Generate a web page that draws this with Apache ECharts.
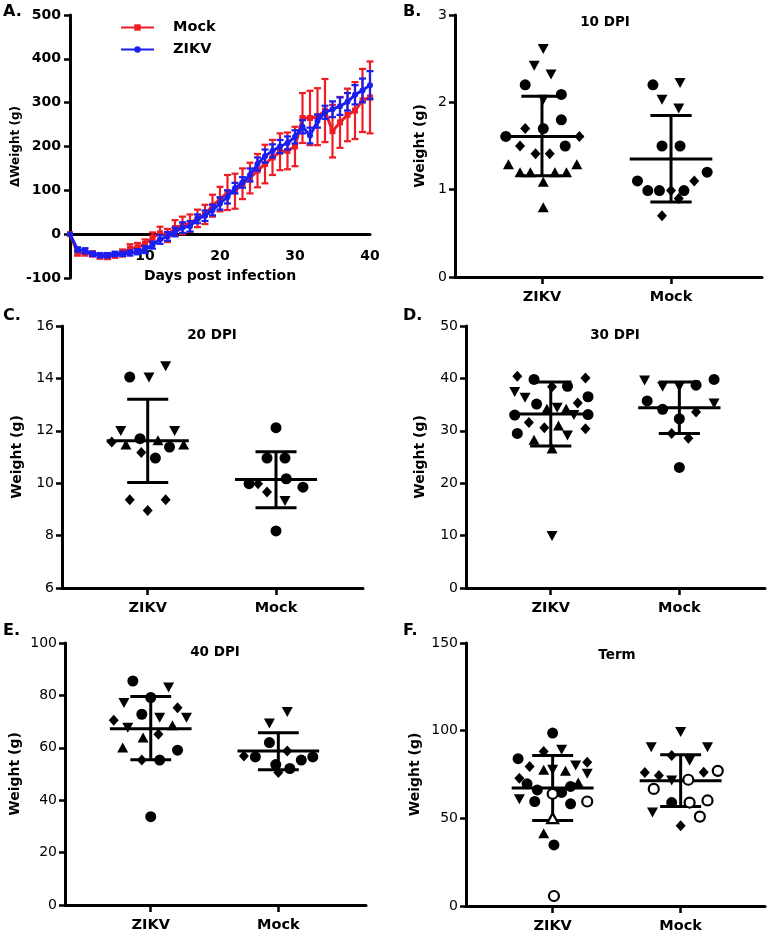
<!DOCTYPE html>
<html>
<head>
<meta charset="utf-8">
<script src="https://cdn.jsdelivr.net/npm/echarts@6/dist/echarts.min.js"></script>
<style>html,body{margin:0;padding:0;background:#fff}#c{width:771px;height:936px}</style>
</head>
<body>
<div id="c"></div>
<script>
// ---------- Panel A data ----------
const days = [0,1,2,3,4,5,6,7,8,9,10,11,12,13,14,15,16,17,18,19,20,21,22,23,24,25,26,27,28,29,30,31,32,33,34,35,36,37,38,39,40];
const mockMean = [0,-43,-43,-45,-50,-51,-48,-43,-33,-30,-22,-8,2,-3,14,20,25,36,45,65,80,95,98,115,128,145,160,175,188,190,200,265,265,268,282,235,255,272,282,305,312];
const mockSD   = [0,6,6,6,6,6,6,8,10,10,10,12,15,15,18,20,20,20,22,25,28,40,40,35,35,38,44,40,42,42,45,57,62,65,72,60,58,60,65,72,82];
const zikvMean = [0,-35,-38,-45,-48,-48,-45,-45,-43,-40,-35,-25,-12,-5,5,15,18,35,42,55,70,85,105,118,135,160,178,190,200,208,222,245,225,258,278,285,292,302,318,328,340];
const zikvSD   = [0,5,6,5,5,5,5,5,6,6,8,8,10,10,10,12,12,10,12,12,14,15,12,12,15,15,15,15,15,15,15,15,18,15,15,18,20,20,22,27,32];
const seriesNames = ['Mock','ZIKV'];
const axisA_y = {min:-100, max:500, interval:100};
const axisA_x = {min:0, max:40, interval:10};

// ---------- Scatter panels: [jitter, weight, shape]  o=circle d=diamond ^=triangle v=inverted triangle, oo/^o = open ----------
const groups = ['ZIKV','Mock'];

const b_zikv = [[0.01,2.61,'v'],[-0.06,2.42,'v'],[0.07,2.32,'v'],[-0.13,2.20,'o'],[0.15,2.09,'o'],[0.01,2.03,'v'],[0.15,1.80,'o'],[-0.13,1.70,'d'],[0.01,1.70,'o'],[-0.28,1.61,'o'],[0.29,1.61,'d'],[-0.17,1.50,'d'],[0.18,1.50,'o'],[-0.05,1.41,'d'],[0.06,1.41,'d'],[-0.26,1.29,'^'],[0.27,1.29,'^'],[-0.17,1.20,'^'],[-0.09,1.20,'^'],[0.10,1.20,'^'],[0.19,1.20,'^'],[0.01,1.09,'^'],[0.01,0.80,'^']];
const b_mock = [[-0.14,2.20,'o'],[0.07,2.22,'v'],[-0.07,2.03,'v'],[0.06,1.93,'v'],[-0.07,1.50,'o'],[0.07,1.50,'o'],[0.28,1.20,'o'],[0.18,1.10,'d'],[-0.26,1.10,'o'],[-0.18,0.99,'o'],[-0.09,0.99,'o'],[0,0.99,'d'],[0.10,0.99,'o'],[0.06,0.90,'d'],[-0.07,0.70,'d']];
const b_stats = [[1.61,1.16,2.07],[1.35,0.86,1.85]]; // mean, mean-SD, mean+SD
const b_ticks = {min:0, max:3, interval:1};

const c_zikv = [[-0.14,14.05,'o'],[0.01,14.03,'v'],[0.14,14.46,'v'],[-0.21,11.99,'v'],[0.21,11.99,'v'],[-0.28,11.57,'d'],[-0.17,11.48,'^'],[-0.06,11.70,'o'],[0.08,11.64,'^'],[0.17,11.38,'o'],[0.28,11.48,'^'],[-0.05,11.17,'d'],[0.06,10.96,'o'],[-0.14,9.37,'d'],[0.14,9.37,'d'],[0,8.96,'d']];
const c_mock = [[0,12.12,'o'],[-0.07,10.96,'o'],[0.07,10.96,'o'],[0.08,10.17,'o'],[-0.21,9.98,'o'],[-0.14,9.98,'d'],[-0.07,9.66,'d'],[0.21,9.85,'o'],[0.07,9.32,'v'],[0,8.18,'o']];
const c_stats = [[11.62,10.03,13.2],[10.14,9.06,11.2]];
const c_ticks = {min:6, max:16, interval:2};

const d_zikv = [[-0.26,40.4,'d'],[-0.13,39.8,'o'],[0.01,38.4,'d'],[0.13,38.5,'o'],[0.27,40.1,'d'],[-0.28,37.4,'v'],[-0.20,36.3,'v'],[0.29,36.5,'o'],[-0.11,35.1,'o'],[0.21,35.3,'d'],[-0.03,34.2,'^'],[0.05,34.4,'v'],[0.12,34.2,'^'],[-0.28,33.0,'o'],[0.18,33.0,'v'],[0.29,33.1,'o'],[-0.17,31.6,'d'],[-0.05,30.6,'d'],[0.06,31.0,'^'],[0.27,30.4,'d'],[-0.26,29.5,'o'],[0.13,29.1,'v'],[-0.13,28.3,'^'],[0.01,26.6,'^'],[0.01,9.9,'v']];
const d_mock = [[-0.27,39.6,'v'],[-0.13,38.4,'v'],[0,38.4,'v'],[0.13,38.7,'o'],[0.27,39.8,'o'],[-0.25,35.7,'o'],[-0.13,34.1,'o'],[0.27,35.2,'v'],[0,32.3,'o'],[0.13,33.6,'d'],[-0.06,29.5,'d'],[0.07,28.6,'d'],[0,23.0,'o']];
const d_stats = [[33.2,27.1,39.3],[34.4,29.5,39.3]];
const d_ticks = {min:0, max:50, interval:10};

const e_zikv = [[-0.14,85.5,'o'],[0.14,83.0,'v'],[-0.21,77.1,'v'],[0,79.2,'o'],[0.21,75.3,'d'],[-0.07,72.8,'o'],[0.07,71.5,'v'],[0.28,71.5,'v'],[-0.29,70.5,'d'],[-0.18,67.7,'v'],[0.17,68.6,'^'],[0.06,65.2,'d'],[-0.06,63.9,'^'],[-0.22,60.1,'^'],[0.21,59.1,'o'],[-0.07,55.3,'d'],[0.07,55.3,'o'],[0,33.7,'o']];
const e_mock = [[0.07,73.7,'v'],[-0.07,69.3,'v'],[-0.07,62.0,'o'],[0.07,58.8,'d'],[-0.27,56.9,'d'],[-0.18,56.5,'o'],[0.27,56.5,'o'],[0.18,55.3,'o'],[-0.02,53.6,'o'],[0.09,52.1,'o'],[0,50.6,'d']];
const e_stats = [[67.3,55.4,79.6],[58.8,51.6,65.7]];
const e_ticks = {min:0, max:100, interval:20};

const f_zikv = [[0,98.6,'o'],[-0.27,84.0,'o'],[-0.07,88.1,'d'],[0.07,89.1,'v'],[-0.18,79.6,'d'],[-0.07,77.7,'^'],[0,77.7,'v'],[0.10,77.1,'^'],[0.18,80.1,'v'],[0.27,82.0,'d'],[0.27,75.4,'v'],[-0.26,72.9,'d'],[-0.20,69.7,'o'],[-0.12,66.2,'o'],[0.20,70.4,'^'],[0.14,68.2,'o'],[0.07,64.8,'o'],[-0.26,60.9,'v'],[-0.14,59.6,'o'],[0.14,58.3,'o'],[0,64.0,'oo'],[0.27,59.6,'oo'],[0,50.1,'^o'],[-0.07,41.5,'^'],[0.01,34.8,'o'],[0.01,5.7,'oo']];
const f_mock = [[0,99.2,'v'],[-0.23,90.6,'v'],[0.21,90.6,'v'],[-0.07,85.9,'d'],[0.07,82.8,'v'],[0.29,77.1,'oo'],[-0.28,76.1,'d'],[-0.17,74.4,'d'],[0.18,76.3,'d'],[-0.07,71.6,'v'],[0.06,72.0,'oo'],[-0.21,66.8,'oo'],[-0.07,59.0,'o'],[0.07,59.0,'oo'],[0.21,60.2,'oo'],[-0.22,53.3,'v'],[0.15,51.0,'oo'],[0,45.7,'d']];
const f_stats = [[67.3,48.8,85.9],[71.5,56.8,86.2]];
const f_ticks = {min:0, max:150, interval:50};

const panelTitles = ['10 DPI','20 DPI','30 DPI','40 DPI','Term'];
const panelLetters = ['A.','B.','C.','D.','E.','F.'];

// ---------- layout / styles ----------
const FONT = 'DejaVu Sans';
const RED = '#ee1c25', BLUE = '#1a1ff0';
const MEAN_HALF = 0.32, CAP_HALF = 0.16;

const scatterPanels = [
  {zikv:b_zikv, mock:b_mock, stats:b_stats, ticks:b_ticks, grid:{left:455, top:15, width:307, height:262}, xr:[-0.674,1.705], nameGap:28, title:[605,22], letter:[403,12]},
  {zikv:c_zikv, mock:c_mock, stats:c_stats, ticks:c_ticks, grid:{left:62, top:326, width:301, height:262}, xr:[-0.668,1.678], nameGap:38, title:[212,335], letter:[3,316]},
  {zikv:d_zikv, mock:d_mock, stats:d_stats, ticks:d_ticks, grid:{left:466, top:326, width:299, height:262}, xr:[-0.659,1.666], nameGap:39, title:[615,335], letter:[403,316]},
  {zikv:e_zikv, mock:e_mock, stats:e_stats, ticks:e_ticks, grid:{left:65, top:643, width:301, height:262}, xr:[-0.672,1.687], nameGap:43, title:[215,652], letter:[3,631]},
  {zikv:f_zikv, mock:f_mock, stats:f_stats, ticks:f_ticks, grid:{left:466, top:643, width:299, height:263}, xr:[-0.677,1.659], nameGap:44, title:[617,655], letter:[403,631]}
];

function symbolFor(shape){
  switch(shape){
    case 'o': return {symbol:'circle', symbolSize:11};
    case 'd': return {symbol:'diamond', symbolSize:[10,11]};
    case '^': return {symbol:'triangle', symbolSize:[11,10]};
    case 'v': return {symbol:'triangle', symbolSize:[11,10], symbolRotate:180};
    case 'oo': return {symbol:'circle', symbolSize:10};
    case '^o': return {symbol:'triangle', symbolSize:[11,10]};
  }
}
const isOpen = s => s === 'oo' || s === '^o';

const gridA = {left:70, top:15, width:300, height:263};
const zeroOffsetA = -gridA.height * (0 - axisA_y.min) / (axisA_y.max - axisA_y.min);
const grids = [gridA];
const xAxes = [{
  gridIndex:0, type:'value', min:axisA_x.min, max:axisA_x.max, interval:axisA_x.interval,
  offset:zeroOffsetA,
  axisLine:{show:true, onZero:false, lineStyle:{color:'#000', width:3}},
  axisTick:{show:false}, splitLine:{show:false},
  axisLabel:{color:'#000', fontFamily:FONT, fontWeight:'bold', fontSize:14, margin:15, formatter:v => v===0 ? '' : String(v)},
  name:'Days post infection', nameLocation:'middle', nameGap:35,
  nameTextStyle:{color:'#000', fontFamily:FONT, fontWeight:'bold', fontSize:14}
}];
const yAxes = [{
  gridIndex:0, type:'value', min:axisA_y.min, max:axisA_y.max, interval:axisA_y.interval,
  axisLine:{show:true, onZero:false, lineStyle:{color:'#000', width:3}},
  axisTick:{show:true, length:6, lineStyle:{color:'#000', width:2.5}}, splitLine:{show:false},
  axisLabel:{color:'#000', fontFamily:FONT, fontWeight:'bold', fontSize:14, margin:9},
  name:'\u0394Weight (g)', nameLocation:'middle', nameGap:44,
  nameTextStyle:{color:'#000', fontFamily:FONT, fontWeight:'bold', fontSize:12}
}];

function errRender(color){
  return function(params, api){
    const x = api.value(0), m = api.value(1), s = api.value(2);
    const t = api.coord([x, m + s]), b = api.coord([x, m - s]);
    const cw = 3.5;
    const style = {stroke:color, lineWidth:2.2};
    return {type:'group', children:[
      {type:'line', shape:{x1:t[0], y1:t[1], x2:b[0], y2:b[1]}, style},
      {type:'line', shape:{x1:t[0]-cw, y1:t[1], x2:t[0]+cw, y2:t[1]}, style},
      {type:'line', shape:{x1:b[0]-cw, y1:b[1], x2:b[0]+cw, y2:b[1]}, style}
    ]};
  };
}

const series = [
  {type:'custom', xAxisIndex:0, yAxisIndex:0, z:2, renderItem:errRender(RED),
   data:days.map((d,i)=>[d, mockMean[i], mockSD[i]]).filter(r=>r[2]>0)},
  {type:'line', name:seriesNames[0], xAxisIndex:0, yAxisIndex:0, z:3, symbol:'rect', symbolSize:6, showSymbol:true,
   lineStyle:{color:RED, width:3}, itemStyle:{color:RED}, data:days.map((d,i)=>[d, mockMean[i]])},
  {type:'custom', xAxisIndex:0, yAxisIndex:0, z:4, renderItem:errRender(BLUE),
   data:days.map((d,i)=>[d, zikvMean[i], zikvSD[i]]).filter(r=>r[2]>0)},
  {type:'line', name:seriesNames[1], xAxisIndex:0, yAxisIndex:0, z:5, symbol:'circle', symbolSize:6, showSymbol:true,
   lineStyle:{color:BLUE, width:3}, itemStyle:{color:BLUE}, data:days.map((d,i)=>[d, zikvMean[i]])}
];

function summaryRender(params, api){
  const g = api.value(0), m = api.value(1), lo = api.value(2), hi = api.value(3);
  const a = api.coord([g - MEAN_HALF, m]), b = api.coord([g + MEAN_HALF, m]);
  const t = api.coord([g, hi]), bt = api.coord([g, lo]);
  const c1 = api.coord([g - CAP_HALF, hi]), c2 = api.coord([g + CAP_HALF, hi]);
  const c3 = api.coord([g - CAP_HALF, lo]), c4 = api.coord([g + CAP_HALF, lo]);
  const style = {stroke:'#000', lineWidth:3};
  return {type:'group', children:[
    {type:'line', shape:{x1:a[0], y1:a[1], x2:b[0], y2:b[1]}, style},
    {type:'line', shape:{x1:t[0], y1:t[1], x2:bt[0], y2:bt[1]}, style},
    {type:'line', shape:{x1:c1[0], y1:c1[1], x2:c2[0], y2:c2[1]}, style},
    {type:'line', shape:{x1:c3[0], y1:c3[1], x2:c4[0], y2:c4[1]}, style}
  ]};
}

const graphics = [];
graphics.push({type:'text', x:3, y:4, style:{text:panelLetters[0], font:'bold 16px ' + FONT, fill:'#000'}});

scatterPanels.forEach((p, k) => {
  const gi = k + 1;
  grids.push(p.grid);
  xAxes.push({
    gridIndex:gi, type:'value', min:p.xr[0], max:p.xr[1],
    axisLine:{show:true, onZero:false, lineStyle:{color:'#000', width:3}},
    axisTick:{show:true, customValues:[0,1], length:7, lineStyle:{color:'#000', width:2.5}},
    axisLabel:{show:true, customValues:[0,1], formatter:v => groups[Math.round(v)] || '', color:'#000', fontFamily:FONT, fontWeight:'bold', fontSize:14.5, margin:13},
    splitLine:{show:false}
  });
  yAxes.push({
    gridIndex:gi, type:'value', min:p.ticks.min, max:p.ticks.max, interval:p.ticks.interval,
    axisLine:{show:true, onZero:false, lineStyle:{color:'#000', width:3}},
    axisTick:{show:true, length:6, lineStyle:{color:'#000', width:2.5}}, splitLine:{show:false},
    axisLabel:{color:'#000', fontFamily:FONT, fontSize:14, margin:8},
    name:'Weight (g)', nameLocation:'middle', nameGap:p.nameGap,
    nameTextStyle:{color:'#000', fontFamily:FONT, fontWeight:'bold', fontSize:14}
  });
  const filled = [], open = [];
  [p.zikv, p.mock].forEach((arr, g) => {
    arr.forEach(r => {
      const item = Object.assign({value:[g + r[0], r[1]]}, symbolFor(r[2]));
      (isOpen(r[2]) ? open : filled).push(item);
    });
  });
  series.push({type:'scatter', xAxisIndex:gi, yAxisIndex:gi, z:2, itemStyle:{color:'#000', opacity:1}, data:filled});
  series.push({type:'custom', xAxisIndex:gi, yAxisIndex:gi, z:3, renderItem:summaryRender,
    data:p.stats.map((s, g) => [g, s[0], s[1], s[2]])});
  if (open.length) series.push({type:'scatter', xAxisIndex:gi, yAxisIndex:gi, z:4,
    itemStyle:{color:'#fff', borderColor:'#000', borderWidth:2.2, opacity:1}, data:open});
  graphics.push({type:'text', x:p.title[0], y:p.title[1], style:{text:panelTitles[k], font:'bold 13.5px ' + FONT, fill:'#000', textAlign:'center', textVerticalAlign:'middle'}});
  graphics.push({type:'text', x:p.letter[0], y:p.letter[1] - 8, style:{text:panelLetters[gi], font:'bold 16px ' + FONT, fill:'#000'}});
});

const chart = echarts.init(document.getElementById('c'), null, {renderer:'canvas'});
chart.setOption({
  animation:false,
  backgroundColor:'#fff',
  textStyle:{fontFamily:FONT},
  legend:{
    data:seriesNames, orient:'vertical', left:115, top:15, itemWidth:33, itemHeight:8, itemGap:7,
    textStyle:{color:'#000', fontFamily:FONT, fontWeight:'bold', fontSize:14.5, padding:[0,0,0,14]}
  },
  grid:grids, xAxis:xAxes, yAxis:yAxes, series:series, graphic:graphics
});
</script>
</body>
</html>
